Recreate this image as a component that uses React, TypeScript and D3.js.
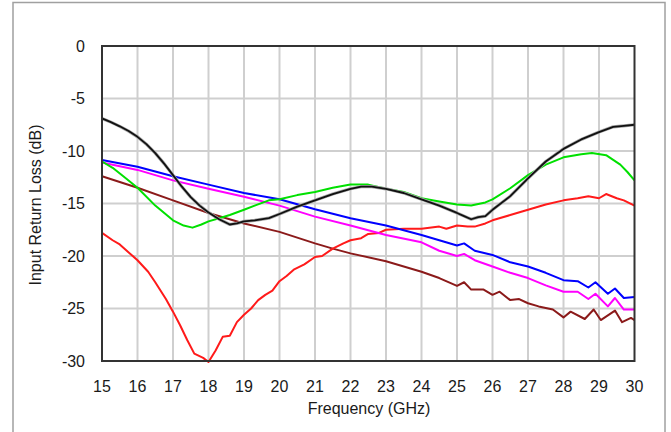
import React from "react";
import * as d3 from "d3";

const xTicks = [15, 16, 17, 18, 19, 20, 21, 22, 23, 24, 25, 26, 27, 28, 29, 30];
const yTicks = [0, -5, -10, -15, -20, -25, -30];

const blackF = [15, 15.25, 15.5, 15.75, 16, 16.25, 16.5, 16.75, 17, 17.25, 17.5, 17.75, 18, 18.3, 18.6, 18.8, 19, 19.3, 19.7, 20, 20.5, 21, 21.5, 22, 22.3, 22.6, 23, 23.5, 24, 24.5, 25, 25.2, 25.4, 25.6, 25.8, 26, 26.5, 27, 27.5, 28, 28.5, 29, 29.4, 29.7, 30];
const blackV = [-6.9, -7.25, -7.65, -8.1, -8.65, -9.35, -10.2, -11.2, -12.3, -13.4, -14.4, -15.2, -15.85, -16.5, -17.0, -16.9, -16.7, -16.6, -16.4, -16.0, -15.3, -14.7, -14.1, -13.6, -13.4, -13.4, -13.6, -14.0, -14.6, -15.2, -15.9, -16.2, -16.5, -16.3, -16.2, -15.6, -14.3, -12.6, -11.0, -9.8, -8.9, -8.2, -7.7, -7.6, -7.5];

const greenF = [15, 15.3, 15.6, 16, 16.5, 17, 17.3, 17.55, 17.8, 18, 18.3, 18.6, 19, 19.3, 19.7, 20, 20.5, 21, 21.5, 22, 22.5, 23, 23.5, 24, 24.5, 25, 25.4, 25.8, 26, 26.5, 27, 27.5, 28, 28.5, 28.8, 29.2, 29.6, 29.8, 30];
const greenV = [-11.0, -11.6, -12.4, -13.5, -15.2, -16.6, -17.1, -17.3, -17.0, -16.7, -16.4, -16.1, -15.6, -15.2, -14.7, -14.6, -14.2, -13.9, -13.5, -13.2, -13.2, -13.6, -13.9, -14.5, -14.8, -15.1, -15.2, -14.9, -14.6, -13.55, -12.3, -11.3, -10.6, -10.3, -10.2, -10.4, -11.3, -12.0, -12.8];

const bmF = [15, 16, 17, 18, 19, 20, 21, 22, 23, 24, 24.5, 25, 25.2, 25.5, 26, 26.5, 27, 27.5, 28, 28.4, 28.7, 28.9, 29.25, 29.45, 29.7, 30];
const blueV = [-10.85, -11.5, -12.4, -13.2, -14.0, -14.6, -15.55, -16.4, -17.1, -18.0, -18.5, -19.0, -18.8, -19.5, -19.9, -20.6, -21.0, -21.6, -22.3, -22.4, -23.0, -22.5, -23.6, -23.1, -24.0, -23.9];
const magentaV = [-11.1, -11.8, -12.8, -13.6, -14.35, -15.2, -16.25, -17.1, -18.0, -18.7, -19.5, -20.0, -19.8, -20.4, -21.0, -21.6, -22.1, -22.8, -23.4, -23.4, -24.1, -23.6, -24.8, -24.0, -25.1, -25.1];

const brownF = [15, 16, 17, 18, 19, 20, 21, 21.5, 22, 23, 24, 24.5, 25, 25.2, 25.4, 25.75, 26, 26.2, 26.5, 26.75, 27, 27.3, 27.7, 28, 28.2, 28.6, 28.85, 29.05, 29.45, 29.65, 29.9, 30];
const brownV = [-12.4, -13.5, -14.7, -15.9, -16.9, -17.7, -18.8, -19.3, -19.75, -20.5, -21.5, -22.1, -22.85, -22.5, -23.2, -23.2, -23.7, -23.4, -24.2, -24.1, -24.5, -24.8, -25.1, -25.85, -25.3, -26.0, -25.1, -26.1, -25.2, -26.3, -25.9, -26.1];

const redF = [15, 15.3, 15.5, 15.8, 16, 16.3, 16.5, 16.8, 17, 17.2, 17.4, 17.6, 17.85, 18, 18.2, 18.4, 18.6, 18.8, 19, 19.2, 19.4, 19.6, 19.8, 20, 20.2, 20.4, 20.7, 21, 21.2, 21.5, 21.8, 22, 22.3, 22.5, 22.8, 23, 23.5, 24, 24.5, 24.7, 25, 25.3, 25.5, 25.8, 26, 26.5, 27, 27.5, 28, 28.4, 28.7, 29, 29.2, 29.5, 29.7, 30];
const redV = [-17.8, -18.5, -18.9, -19.8, -20.4, -21.5, -22.5, -24.1, -25.3, -26.6, -28.0, -29.3, -29.7, -30.1, -29.0, -27.7, -27.6, -26.3, -25.6, -25.0, -24.2, -23.7, -23.3, -22.4, -21.9, -21.3, -20.8, -20.1, -20.0, -19.3, -18.8, -18.5, -18.3, -17.9, -17.8, -17.5, -17.4, -17.4, -17.2, -17.4, -17.1, -17.2, -17.2, -16.9, -16.6, -16.1, -15.6, -15.1, -14.7, -14.5, -14.3, -14.5, -14.1, -14.5, -14.7, -15.2];

const series = [
  { name: "brown", f: brownF, v: brownV, color: "#8b1a1a" },
  { name: "red", f: redF, v: redV, color: "#ff1a1a" },
  { name: "magenta", f: bmF, v: magentaV, color: "#ff00ff" },
  { name: "blue", f: bmF, v: blueV, color: "#0000ff" },
  { name: "green", f: greenF, v: greenV, color: "#00e000" },
  { name: "black", f: blackF, v: blackV, color: "#000000" },
];

export default function App() {
  const x = d3.scaleLinear().domain([15, 30]).range([102, 634.5]);
  const y = d3.scaleLinear().domain([0, -30]).range([46, 361]);
  const line = d3
    .line<[number, number]>()
    .x((d) => x(d[0]))
    .y((d) => y(d[1]));
  const font = "Arial, 'Liberation Sans', Helvetica, sans-serif";
  return (
    <svg
      width={671}
      height={432}
      style={{ position: "absolute", left: 0, top: 0, background: "#fff" }}
    >
      <rect x={0} y={0} width={671} height={432} fill="#fff" />
      <rect x={13} y={2.5} width={652} height={440} fill="none" stroke="#a0a0a0" strokeWidth={1.5} />
      {xTicks.slice(1, -1).map((t) => (
        <line key={"gx" + t} x1={x(t)} x2={x(t)} y1={y(0)} y2={y(-30)} stroke="#cfcfcf" strokeWidth={2} />
      ))}
      {yTicks.slice(1, -1).map((t) => (
        <line key={"gy" + t} x1={x(15)} x2={x(30)} y1={y(t)} y2={y(t)} stroke="#cfcfcf" strokeWidth={2} />
      ))}
      {series.map((s) => {
        const pts = s.f.map((f, i) => [f, s.v[i]] as [number, number]);
        if (s.name === "black") {
          return (
            <g key={s.name}>
              <path d={line(pts) || ""} fill="none" stroke="#a8a8a8" strokeWidth={3.2} strokeLinejoin="round" />
              <path d={line(pts) || ""} fill="none" stroke="#111" strokeWidth={1.8} strokeLinejoin="round" />
            </g>
          );
        }
        return (
          <path key={s.name} d={line(pts) || ""} fill="none" stroke={s.color} strokeWidth={2} strokeLinejoin="round" />
        );
      })}
      <rect x={x(15)} y={y(0)} width={x(30) - x(15)} height={y(-30) - y(0)} fill="none" stroke="#333" strokeWidth={2} />
      {yTicks.map((t) => (
        <text key={"ty" + t} x={85} y={y(t)} dy="0.36em" textAnchor="end" fontFamily={font} fontSize={16} fill="#1a1a1a">
          {t}
        </text>
      ))}
      {xTicks.map((t) => (
        <text key={"tx" + t} x={x(t)} y={392} textAnchor="middle" fontFamily={font} fontSize={16} fill="#1a1a1a">
          {t}
        </text>
      ))}
      <text x={369} y={414} textAnchor="middle" fontFamily={font} fontSize={16} fill="#1a1a1a">
        Frequency (GHz)
      </text>
      <text
        transform={`translate(41,205) rotate(-90)`}
        textAnchor="middle"
        fontFamily={font}
        fontSize={16}
        fill="#1a1a1a"
      >
        Input Return Loss (dB)
      </text>
    </svg>
  );
}
